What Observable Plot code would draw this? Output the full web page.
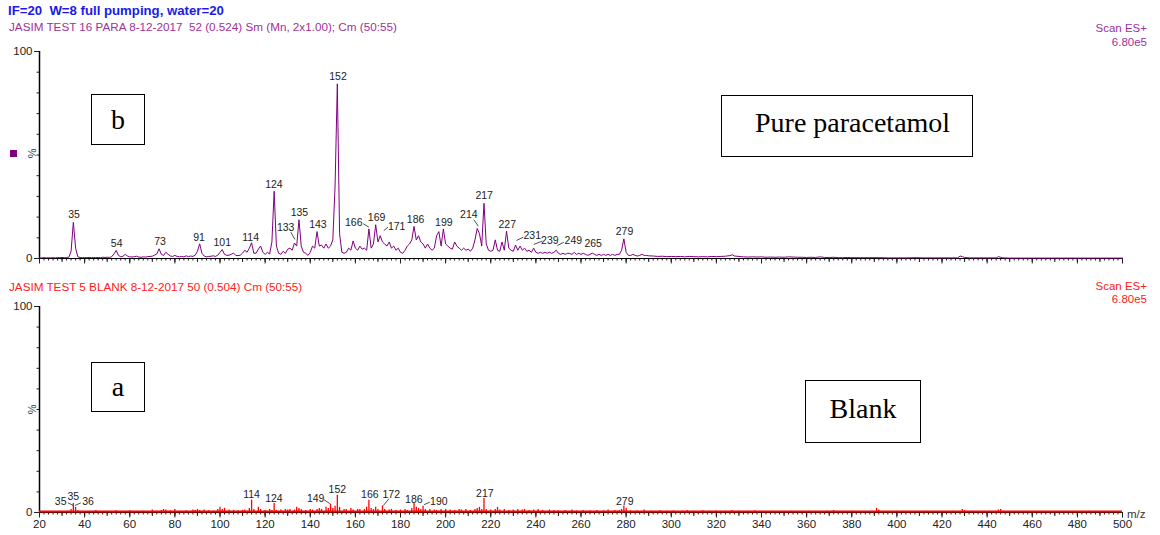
<!DOCTYPE html>
<html><head><meta charset="utf-8">
<script src="https://cdn.jsdelivr.net/npm/d3@7"></script>
<script src="https://cdn.jsdelivr.net/npm/@observablehq/plot@0.6"></script>
<style>
body{margin:0;background:#fff;}
#page{position:relative;width:1160px;height:535px;overflow:hidden;font-family:"Liberation Sans",Arial,sans-serif;background:#fff;}
.t{position:absolute;white-space:pre;line-height:1;}
.box{position:absolute;border:1px solid #000;background:#fff;font-family:"Liberation Serif","Times New Roman",serif;font-size:28px;display:flex;align-items:center;box-sizing:border-box;color:#000;}
.plot{position:absolute;left:0;}
</style></head>
<body><div id="page">
<div class="t" style="left:8px;top:4px;font-size:13.2px;font-weight:bold;color:#1a1ae6;">IF=20  W=8 full pumping, water=20</div>
<div class="t" style="left:9px;top:21px;font-size:11.7px;color:#a0309c;">JASIM TEST 16 PARA 8-12-2017  52 (0.524) Sm (Mn, 2x1.00); Cm (50:55)</div>
<div class="t" style="right:13px;top:23px;font-size:11.5px;color:#a0309c;text-align:right;">Scan ES+</div>
<div class="t" style="right:13px;top:37px;font-size:11.5px;color:#a0309c;text-align:right;">6.80e5</div>
<div class="t" style="left:9px;top:281px;font-size:11.7px;color:#ff2020;">JASIM TEST 5 BLANK 8-12-2017 50 (0.504) Cm (50:55)</div>
<div class="t" style="right:13px;top:281px;font-size:11.5px;color:#ff2020;text-align:right;">Scan ES+</div>
<div class="t" style="right:13px;top:294px;font-size:11.5px;color:#ff2020;text-align:right;">6.80e5</div>
<div id="p1" class="plot" style="top:40px;"></div>
<div id="p2" class="plot" style="top:295px;"></div>
<div style="position:absolute;left:10px;top:150px;width:7px;height:7px;background:#800080;"></div>
<div class="t" style="left:27px;top:148px;font-size:11px;color:#333;transform:rotate(90deg);">%</div>
<div class="t" style="left:27px;top:404px;font-size:11px;color:#333;transform:rotate(90deg);">%</div>
<div class="t" style="left:1127px;top:509px;font-size:11.5px;color:#333;">m/z</div>
<div class="box" style="left:91px;top:94px;width:54px;height:51px;justify-content:center;">b</div>
<div class="box" style="left:721px;top:95px;width:252px;height:62px;padding-left:33px;padding-bottom:6px;">Pure paracetamol</div>
<div class="box" style="left:91px;top:362px;width:54px;height:50px;justify-content:center;">a</div>
<div class="box" style="left:805px;top:380px;width:116px;height:63px;justify-content:center;padding-bottom:6px;">Blank</div>
</div>
<script>
// ---- data ----
const xLabelTicks = [20,40,60,80,100,120,140,160,180,200,220,240,260,280,300,320,340,360,380,400,420,440,460,480,500];
const yLabelTicks = [0,100];
const yMinorTicks = [10,20,30,40,50,60,70,80,90];

// Pure paracetamol spectrum (m/z, % relative intensity)
const topSpectrum = [[20,0.3],[21,0.3],[22,0.4],[23,0.3],[24,0.4],[25,0.3],[26,0.4],[27,0.3],[28,0.5],[29,0.4],[30,0.5],[31,0.4],[32,0.5],[33,0.6],[34,3.5],[35,17.5],[36,5],[37,0.8],[38,0.5],[39,0.4],[40,0.5],[41,0.4],[42,0.5],[43,0.4],[44,0.5],[45,0.4],[46,0.5],[47,0.4],[48,0.6],[49,0.5],[50,0.6],[51,0.5],[52,0.9],[53,2.2],[54,3.9],[55,1.5],[56,0.8],[57,1.1],[58,2],[59,1.2],[60,0.8],[61,0.7],[62,0.9],[63,1.1],[64,0.7],[65,0.6],[66,0.8],[67,0.7],[68,0.9],[69,1],[70,1.1],[71,1.6],[72,2.2],[73,4.7],[74,2],[75,1.5],[76,3],[77,2],[78,1.2],[79,1],[80,1.5],[81,1],[82,0.8],[83,1],[84,0.8],[85,1.3],[86,0.9],[87,1.2],[88,1],[89,1.6],[90,3.5],[91,7.1],[92,2.5],[93,1.2],[94,0.8],[95,1],[96,1.1],[97,1.3],[98,1],[99,1.6],[100,3],[101,4.3],[102,2],[103,1.5],[104,1.6],[105,2],[106,2.6],[107,1.5],[108,1.4],[109,1.6],[110,2.6],[111,4],[112,3],[113,5],[114,7.6],[115,2.5],[116,2.6],[117,4.5],[118,6],[119,3],[120,2],[121,3],[122,2.2],[123,8],[124,32.5],[125,6],[126,2.5],[127,2],[128,3.5],[129,2.5],[130,4.5],[131,5],[132,4],[133,7.5],[134,6],[135,18.7],[136,6],[137,3],[138,2.5],[139,1.5],[140,3],[141,6],[142,5],[143,13],[144,6],[145,6.5],[146,5],[147,7],[148,5],[149,6],[150,9],[151,35],[152,84.4],[153,12],[154,3],[155,2.5],[156,3],[157,5],[158,4],[159,8.5],[160,5],[161,4],[162,6],[163,4.5],[164,5],[165,4],[166,14.3],[167,5],[168,7],[169,16.3],[170,8],[171,11],[172,8],[173,7],[174,6],[175,8],[176,5],[177,6],[178,4],[179,5],[180,3],[181,2.5],[182,4],[183,6],[184,7],[185,9],[186,15.5],[187,9],[188,11],[189,8],[190,7],[191,5],[192,7],[193,5],[194,4],[195,5],[196,11],[197,13],[198,6],[199,14.3],[200,7],[201,6],[202,5],[203,4.5],[204,8],[205,6],[206,5],[207,4],[208,5],[209,4],[210,4.5],[211,3.5],[212,5],[213,9],[214,14.5],[215,12],[216,6],[217,26.7],[218,7],[219,4],[220,3.5],[221,4],[222,9],[223,4],[224,3.5],[225,8],[226,4],[227,13.2],[228,5],[229,4],[230,3.5],[231,6.5],[232,4],[233,6],[234,4],[235,5],[236,3.5],[237,4],[238,3],[239,5],[240,3],[241,2.5],[242,3],[243,2.5],[244,3],[245,2.5],[246,3],[247,2.5],[248,3],[249,4],[250,2.5],[251,2],[252,2.5],[253,2],[254,2.5],[255,2.4],[256,2],[257,3],[258,2],[259,2.5],[260,2],[261,2.5],[262,2],[263,1.5],[264,2],[265,2.6],[266,2],[267,1.5],[268,2],[269,1.5],[270,2],[271,1.5],[272,2],[273,1.5],[274,2],[275,1.5],[276,2],[277,2],[278,4],[279,9.5],[280,3],[281,1.5],[282,1.5],[283,2],[284,1.5],[285,1.2],[286,1.5],[287,2],[288,1.5],[289,1.5],[290,1.3],[292,1.2],[294,1],[296,1.1],[298,0.9],[300,1],[302,0.9],[304,1],[306,0.8],[308,1],[310,0.9],[312,0.8],[314,0.9],[316,0.8],[318,1],[320,0.9],[322,1],[324,1.1],[326,1.4],[327,1.8],[328,1.2],[330,1],[332,0.8],[334,0.7],[336,0.8],[338,0.7],[340,0.8],[342,0.6],[344,0.7],[346,0.6],[348,0.7],[350,0.6],[352,0.8],[354,0.7],[356,0.6],[358,0.6],[360,0.5],[362,0.6],[364,0.5],[366,0.8],[368,0.5],[370,0.5],[372,0.6],[374,0.4],[376,0.4],[378,0.5],[380,0.4],[384,0.4],[388,0.4],[392,0.4],[396,0.3],[400,0.3],[404,0.3],[408,0.4],[412,0.3],[416,0.3],[420,0.3],[424,0.3],[427,0.3],[428,1.2],[429,0.9],[430,0.5],[432,0.3],[436,0.3],[440,0.3],[444,0.3],[445,0.9],[446,0.6],[447,0.3],[450,0.2],[460,0.2],[470,0.2],[480,0.2],[490,0.2],[500,0.2]];

// Blank spectrum (m/z, % relative intensity)
const bottomSpectrum = [[22,0.3],[25,0.4],[28,0.3],[30,0.5],[33,0.6],[34,1.5],[35,4.4],[36,2.5],[37,0.8],[40,0.5],[42,0.4],[45,1],[48,0.5],[50,0.4],[54,0.8],[57,0.5],[60,0.8],[62,0.5],[66,0.6],[70,1.2],[72,0.6],[74,1],[75,1.5],[76,1.2],[78,0.8],[80,1.5],[82,0.6],[85,0.8],[88,1.2],[89,1],[90,1.5],[91,1],[93,1.2],[95,0.8],[97,0.6],[99,1.5],[100,2.5],[101,1.5],[102,2],[104,1.2],[106,1],[108,0.8],[110,1],[111,1.2],[113,2],[114,6],[115,1.5],[117,2.5],[118,1.5],[120,1],[122,1.5],[123,1],[124,4.4],[125,1],[127,1.2],[129,1.5],[130,1.2],[131,1.5],[133,1.2],[134,2.5],[135,2],[136,1.5],[138,1],[140,1.5],[141,1.2],[143,1.5],[144,2],[145,1.5],[147,2.5],[148,2],[149,4],[150,2],[151,3],[152,8.4],[153,2.5],[155,1.5],[156,1.5],[158,2],[159,1.2],[161,1.5],[162,1.5],[164,1.5],[165,2.5],[166,6],[167,2],[168,1.5],[169,2.5],[170,1.5],[172,3.2],[173,1.5],[175,1.2],[176,1.5],[178,1],[180,1.2],[182,1.5],[183,1],[185,2],[186,4.4],[187,2.5],[188,2],[189,1.5],[190,3],[191,1.5],[193,1.5],[195,1.2],[196,1],[198,1.5],[200,1.5],[202,1.2],[204,1],[206,1.5],[207,1.2],[209,1.5],[211,1],[213,1.5],[214,2],[215,2.5],[216,1.5],[217,6.8],[218,1.5],[220,1.2],[222,1.5],[223,2.5],[224,1.2],[226,1.5],[228,1],[230,1.2],[232,1.5],[234,1.2],[235,1.5],[237,1],[239,1.2],[241,1.5],[243,1],[246,1.2],[248,1],[250,0.8],[253,1],[256,1.2],[258,0.8],[261,1],[264,0.8],[267,1],[270,0.8],[272,1.2],[275,1],[277,1],[278,1.5],[279,3.2],[280,2],[282,0.8],[285,0.8],[288,1.2],[291,0.6],[295,0.8],[298,0.6],[301,0.8],[305,0.7],[307,1],[310,0.6],[314,0.8],[317,0.6],[320,0.7],[324,0.6],[327,1],[330,0.7],[334,0.6],[337,0.8],[341,0.5],[345,0.6],[349,0.5],[353,0.6],[357,0.5],[361,0.6],[365,0.5],[369,0.6],[372,1],[376,0.5],[380,0.6],[385,0.5],[389,0.6],[391,2],[392,1.2],[396,0.5],[400,0.6],[404,0.5],[408,0.5],[413,0.6],[417,0.5],[421,0.5],[425,0.6],[429,1.5],[430,1],[433,0.6],[437,0.5],[441,0.6],[445,1.2],[446,1.5],[447,0.6],[450,0.4],[455,0.5],[460,0.4],[465,0.4],[470,0.5],[475,0.4],[480,0.4],[485,0.6],[490,0.4],[495,0.4]];

// Peak annotations: text, label anchor m/z, label anchor %
const topLabelText = ["35","54","73","91","101","114","124","133","135","143","152","166","169","171","186","199","214","217","227","231","239","249","265","279"];
const topLabelMz   = [35.3,54.2,73.4,90.7,101.0,113.6,123.9,129.1,135.2,143.4,152.3,159.3,169.4,178.3,186.7,199.2,210.3,217.1,227.3,238.4,246.2,256.6,265.4,279.3];
const topLabelPct  = [21.1,7.4,8.2,10.3,7.9,10.3,35.7,15.1,22.1,16.4,87.9,17.5,19.7,15.6,18.7,17.5,21.3,30.4,16.4,11.1,8.7,8.4,7.4,13.0];
// leader lines: from (mz1,pct1) to (mz2,pct2)
const topLeaderMz1  = [131.4,163.5,172.6,212.5,231.4,239.1,249.5];
const topLeaderPct1 = [12.7,16.8,13.5,18.7,8.7,6.8,6.3];
const topLeaderMz2  = [133.2,166.0,174.4,214.5,234.4,242.8,252.4];
const topLeaderPct2 = [9.2,15.1,15.1,15.6,10.3,8.4,7.8];

const bottomLabelText = ["35","35","36","114","124","149","152","166","172","186","190","217","279"];
const bottomLabelMz   = [29.4,35.0,41.5,114.0,123.9,142.4,152.0,166.4,175.9,185.9,197.0,217.4,279.4];
const bottomLabelPct  = [5.5,7.8,5.5,8.6,6.9,6.7,11.2,8.6,8.7,6.2,5.5,9.4,5.5];
const bottomLeaderMz1  = [32.6,35.7,146.1,174.9,190.4];
const bottomLeaderPct1 = [4.7,3.4,6.2,6.7,3.8];
const bottomLeaderMz2  = [35.0,38.3,148.7,172.4,193.0];
const bottomLeaderPct2 = [3.4,4.7,4.3,3.4,5.0];

// ---- build ----
const toPts = arr => arr.map(([mz, pct]) => ({mz, pct}));
const toLabels = (t, x, y) => t.map((s, i) => ({text: s, mz: x[i], pct: y[i]}));
const toLeaders = (x1, y1, x2, y2) => x1.map((v, i) => ({x1: v, y1: y1[i], x2: x2[i], y2: y2[i]}));

const minorX = d3.range(20, 501, 2);
const midX = d3.range(20, 501, 10);

function panel({spectrumMarks, labels, leaders, showXLabels, height, marginTop, marginBottom}) {
  return Plot.plot({
    width: 1160, height, marginLeft: 39, marginRight: 38, marginTop, marginBottom,
    x: {domain: [20, 500]},
    y: {domain: [0, 100]},
    style: {fontFamily: '"Liberation Sans", Arial, sans-serif', fontSize: "11px", color: "#222", background: "transparent", overflow: "visible"},
    marks: [
      Plot.axisX({ticks: minorX, tickSize: 2.5, tickFormat: () => "", label: null}),
      Plot.axisX({ticks: midX, tickSize: 4, tickFormat: () => "", label: null}),
      Plot.axisX({ticks: xLabelTicks, tickSize: 5.5, tickPadding: 2, tickFormat: showXLabels ? (d => String(d)) : () => "", label: null, fontSize: 11.5}),
      Plot.axisY({ticks: yMinorTicks, tickSize: 2.5, tickFormat: () => "", label: null}),
      Plot.axisY({ticks: yLabelTicks, tickSize: 5, tickPadding: 2, label: null, fontSize: 11.5}),
      Plot.ruleX([20], {y1: 0, y2: 100, stroke: "#000", strokeWidth: 1.5}),
      Plot.ruleY([0], {stroke: "#000", strokeWidth: 1.2}),
      ...spectrumMarks,
      Plot.link(leaders, {x1: "x1", y1: "y1", x2: "x2", y2: "y2", stroke: "#222", strokeWidth: 0.8}),
      Plot.text(labels, {x: "mz", y: "pct", text: "text", fill: "#222", fontSize: 10.5})
    ]
  });
}

const topPanel = panel({
  spectrumMarks: [Plot.line(toPts(topSpectrum), {x: "mz", y: "pct", stroke: "#800080", strokeWidth: 1})],
  labels: toLabels(topLabelText, topLabelMz, topLabelPct),
  leaders: toLeaders(topLeaderMz1, topLeaderPct1, topLeaderMz2, topLeaderPct2),
  showXLabels: false, height: 230, marginTop: 11, marginBottom: 12
});
document.getElementById("p1").append(topPanel);

const bottomPanel = panel({
  spectrumMarks: [
    Plot.ruleX(toPts(bottomSpectrum), {x: "mz", y1: 0, y2: "pct", stroke: "#ff0000", strokeWidth: 1.3}),
    Plot.ruleY([0], {stroke: "#ff0000", strokeWidth: 2, dy: -1})
  ],
  labels: toLabels(bottomLabelText, bottomLabelMz, bottomLabelPct),
  leaders: toLeaders(bottomLeaderMz1, bottomLeaderPct1, bottomLeaderMz2, bottomLeaderPct2),
  showXLabels: true, height: 240, marginTop: 11, marginBottom: 23
});
document.getElementById("p2").append(bottomPanel);
</script>
</body></html>
